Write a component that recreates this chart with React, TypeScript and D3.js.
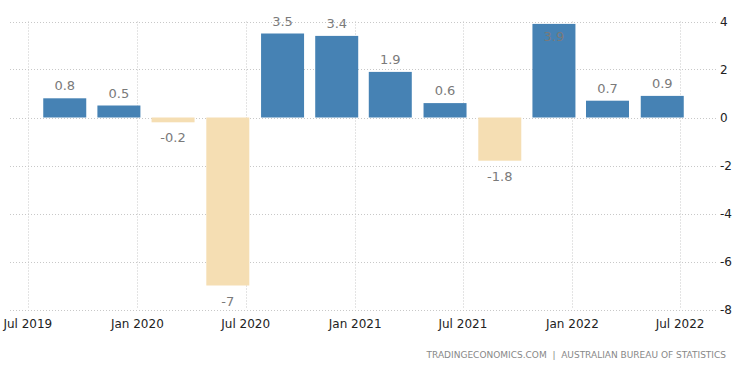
import React, { useEffect, useRef } from "react";
import * as d3 from "d3";

// quarterly GDP growth (%), dated at the middle month of reporting
const quarters = [
  "2019-09", "2019-12", "2020-03", "2020-06", "2020-09", "2020-12",
  "2021-03", "2021-06", "2021-09", "2021-12", "2022-03", "2022-06",
];
const values = [0.8, 0.5, -0.2, -7, 3.5, 3.4, 1.9, 0.6, -1.8, 3.9, 0.7, 0.9];
const xTicks = ["2019-07", "2020-01", "2020-07", "2021-01", "2021-07", "2022-01", "2022-07"];
const yTicks = [4, 2, 0, -2, -4, -6, -8];
const source = "TRADINGECONOMICS.COM  |  AUSTRALIAN BUREAU OF STATISTICS";

const W = 750;
const H = 373;
const parse = d3.timeParse("%Y-%m");

export default function App() {
  const ref = useRef<SVGSVGElement>(null);

  useEffect(() => {
    const svg = d3.select(ref.current);
    svg.selectAll("*").remove();

    const x = d3
      .scaleTime()
      .domain([parse("2019-06")!, parse("2022-09")!])
      .range([10, 717]);
    const y = d3.scaleLinear().domain([4, -8]).range([21.5, 309.5]);
    const barW = 43;
    const font = "DejaVu Sans, Verdana, sans-serif";

    // grid
    const grid = svg.append("g").attr("stroke", "#c8c8c8").attr("stroke-dasharray", "1,2");
    grid
      .selectAll("line.h")
      .data(yTicks)
      .join("line")
      .attr("x1", 10)
      .attr("x2", 717)
      .attr("y1", (d) => Math.round(y(d)) + 0.5)
      .attr("y2", (d) => Math.round(y(d)) + 0.5);
    grid
      .selectAll("line.v")
      .data(xTicks)
      .join("line")
      .attr("x1", (d) => Math.round(x(parse(d)!)) + 0.5)
      .attr("x2", (d) => Math.round(x(parse(d)!)) + 0.5)
      .attr("y1", 21.5)
      .attr("y2", 309.5);

    const data = quarters.map((q, i) => ({ date: parse(q)!, v: values[i] }));

    svg
      .append("g")
      .selectAll("rect")
      .data(data)
      .join("rect")
      .attr("x", (d) => x(d.date) - barW / 2)
      .attr("width", barW)
      .attr("y", (d) => y(Math.max(0, d.v)))
      .attr("height", (d) => Math.abs(y(d.v) - y(0)))
      .attr("fill", (d) => (d.v >= 0 ? "#4682b4" : "#f5deb3"));

    svg
      .append("g")
      .attr("font-family", font)
      .attr("font-size", 13)
      .attr("fill", "#7a7a7a")
      .attr("text-anchor", "middle")
      .selectAll("text")
      .data(data)
      .join("text")
      .attr("x", (d) => x(d.date))
      .attr("y", (d) => {
        if (d.v < 0) return y(d.v) + 20;
        const top = y(d.v);
        return top - 8 < 30 && top < 28 ? top + 17 : top - 8;
      })
      .text((d) => String(d.v));

    // right axis labels
    svg
      .append("g")
      .attr("font-family", font)
      .attr("font-size", 12)
      .attr("fill", "#222")
      .selectAll("text")
      .data(yTicks)
      .join("text")
      .attr("x", 720)
      .attr("y", (d) => y(d) + 4)
      .text((d) => String(d));

    // bottom axis labels
    svg
      .append("g")
      .attr("font-family", font)
      .attr("font-size", 12)
      .attr("fill", "#222")
      .attr("text-anchor", "middle")
      .selectAll("text")
      .data(xTicks)
      .join("text")
      .attr("x", (d) => x(parse(d)!))
      .attr("y", 328)
      .text((d) => d3.timeFormat("%b %Y")(parse(d)!));

    svg
      .append("text")
      .attr("x", 726)
      .attr("y", 358)
      .attr("text-anchor", "end")
      .attr("font-family", font)
      .attr("font-size", 9)
      .attr("fill", "#888")
      .attr("xml:space", "preserve")
      .text(source);
  }, []);

  return (
    <svg
      ref={ref}
      width={W}
      height={H}
      style={{ position: "absolute", left: 0, top: 0, background: "#fff" }}
    />
  );
}
